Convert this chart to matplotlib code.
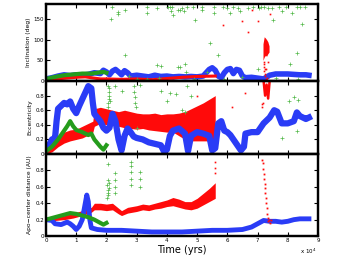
import numpy as np
import matplotlib
matplotlib.use('Agg')
import matplotlib.pyplot as plt
from matplotlib.patches import Rectangle

# time in units of 1e4 yrs
# ---------------- inclination (deg) ----------------
inc_blue_t = [0.0, 0.2, 0.4, 0.6, 0.8, 1.0, 1.2, 1.4, 1.6, 1.8, 1.9, 2.0, 2.1, 2.2, 2.3, 2.4, 2.5,
              2.6, 2.7, 2.8, 3.0, 3.2, 3.4, 3.6, 3.8, 4.0, 4.2, 4.4, 4.6, 4.8, 5.0, 5.2, 5.4, 5.5,
              5.6, 5.7, 5.8, 5.9, 6.0, 6.1, 6.2, 6.3, 6.4, 6.5, 6.6, 6.8, 7.0, 7.2, 7.4, 7.6, 7.8,
              8.0, 8.2, 8.4, 8.6, 8.7]
inc_blue = [5, 8, 12, 15, 13, 15, 14, 16, 20, 18, 26, 22, 15, 24, 28, 22, 15,
            25, 20, 12, 14, 12, 10, 14, 11, 12, 10, 11, 10, 11, 10, 12, 28, 32,
            26, 12, 8, 20, 28, 30, 18, 28, 26, 12, 8, 9, 7, 5, 14, 17, 17,
            17, 16, 15, 15, 14]
inc_red_t = [0.0, 0.5, 1.0, 1.3, 1.5, 1.8, 2.0, 2.5, 3.0, 3.5, 4.0, 4.5, 5.0, 5.6]
inc_red = [2, 6, 9, 10, 8, 5, 5, 4, 5, 3, 6, 9, 11, 12]
inc_green_t = [0.0, 0.3, 0.6, 0.9, 1.2, 1.5, 1.7, 1.9, 2.0]
inc_green = [5, 10, 14, 16, 18, 18, 20, 22, 20]
# red spike near 7.3e4 yrs
spike_t = [7.18, 7.22, 7.26, 7.3, 7.34, 7.38]
spike_lo = [50, 58, 62, 60, 66, 70]
spike_hi = [90, 107, 104, 100, 95, 85]
red_dots_t = [5.87, 6.48, 6.7, 6.81, 7.0, 7.42, 7.2, 7.22, 7.25, 7.21, 7.28, 7.24, 7.3, 7.33, 7.27,
              7.2, 7.23, 4.2, 3.5]
red_dots_i = [135, 146, 119, 171, 146, 163, 40, 25, 12, 33, 30, 18, 8, 45, 4,
              46, 28, 2, 1]
plus_t = [2.2, 2.15, 2.38, 2.38, 2.62, 2.62, 3.33, 3.33, 3.67, 3.67, 3.82, 4.05, 4.1, 4.17, 4.12,
          4.2, 4.37, 4.42, 4.37, 4.45, 4.5, 4.55, 4.65, 4.88, 4.93, 5.17, 5.17, 5.55, 5.55, 5.87,
          6.0, 6.09, 6.2, 6.35, 6.42, 6.7, 6.85, 7.05, 7.1, 7.2, 7.35, 7.47, 7.52, 7.7, 7.8,
          7.95, 8.15, 8.3, 8.4, 8.58, 8.47, 5.43, 5.68, 8.3, 4.6, 4.62, 5.32, 7.0, 8.08,
          2.75, 3.0, 3.35, 3.75, 4.9, 5.9, 6.5, 7.6, 8.35]
plus_i = [178, 151, 167, 162, 172, 63, 178, 164, 177, 39, 37, 178, 178, 178, 169,
          160, 173, 173, 35, 33, 176, 170, 178, 178, 147, 172, 178, 165, 178, 178,
          177, 164, 178, 176, 169, 176, 178, 177, 178, 178, 176, 176, 147, 178, 169,
          178, 164, 178, 178, 178, 138, 91, 63, 68, 41, 23, 23, 28, 41,
          11, 5, 4, 8, 6, 5, 9, 7, 6]

# ---------------- eccentricity ----------------
ecc_blue_t = [0.0, 0.1, 0.2, 0.3, 0.35, 0.4, 0.5, 0.6, 0.7, 0.8, 0.9, 1.0, 1.1, 1.2, 1.3, 1.4, 1.5,
              1.55, 1.6, 1.7, 1.8, 1.9, 2.0, 2.1, 2.2, 2.3, 2.4, 2.5, 2.6, 2.7, 2.8, 2.9, 3.0,
              3.2, 3.4, 3.6, 3.8, 3.9, 4.0, 4.1, 4.2, 4.4, 4.6, 4.7, 4.8, 5.0, 5.2, 5.4, 5.5,
              5.6, 5.7, 5.8, 5.9, 6.0, 6.1, 6.2, 6.3, 6.45, 6.55, 6.6, 6.8, 7.0, 7.1, 7.2,
              7.4, 7.55, 7.65, 7.8, 8.0, 8.2, 8.3, 8.4, 8.6, 8.7]
ecc_blue = [0.06, 0.12, 0.2, 0.22, 0.45, 0.62, 0.66, 0.7, 0.68, 0.72, 0.62, 0.56, 0.66, 0.75, 0.84, 0.93, 0.9,
            0.7, 0.55, 0.5, 0.45, 0.36, 0.32, 0.36, 0.55, 0.45, 0.2, 0.05, 0.25, 0.35, 0.3, 0.24, 0.22,
            0.2, 0.16, 0.14, 0.12, 0.04, 0.06, 0.25, 0.32, 0.35, 0.28, 0.04, 0.25, 0.3, 0.28, 0.25, 0.05,
            0.08, 0.42, 0.45, 0.32, 0.3, 0.26, 0.2, 0.14, 0.05, 0.1, 0.28, 0.3, 0.3, 0.36, 0.42,
            0.5, 0.6, 0.58, 0.42, 0.42, 0.45, 0.57, 0.52, 0.48, 0.5]
ecc_red_t = [0.0, 0.2, 0.4, 0.6, 0.8, 1.0, 1.2, 1.4, 1.55, 1.6, 1.8, 2.0, 2.2, 2.4, 2.6, 2.8, 3.0,
             3.2, 3.4, 3.6, 3.8, 4.0, 4.2, 4.4, 4.6, 4.8, 5.0, 5.2, 5.4, 5.6]
ecc_red_lo = [0.0, 0.03, 0.1, 0.15, 0.18, 0.2, 0.22, 0.26, 0.3, 0.38, 0.42, 0.4, 0.42, 0.38, 0.36, 0.35, 0.34,
              0.35, 0.33, 0.32, 0.31, 0.3, 0.3, 0.25, 0.2, 0.18, 0.18, 0.18, 0.18, 0.2]
ecc_red_hi = [0.08, 0.18, 0.25, 0.3, 0.33, 0.34, 0.38, 0.42, 0.45, 0.62, 0.64, 0.62, 0.6, 0.58, 0.6, 0.58, 0.56,
              0.55, 0.55, 0.56, 0.54, 0.55, 0.55, 0.56, 0.58, 0.62, 0.66, 0.7, 0.75, 0.8]
ecc_green_t = [0.0, 0.2, 0.4, 0.6, 0.7, 0.8, 0.9, 1.0, 1.2, 1.4, 1.5, 1.6, 1.7, 1.8, 1.9, 2.0]
ecc_green = [0.04, 0.1, 0.2, 0.32, 0.38, 0.45, 0.38, 0.33, 0.3, 0.26, 0.28, 0.2, 0.15, 0.1, 0.06, 0.12]
ecc_spike_t = [7.2, 7.25, 7.3, 7.35, 7.4]
ecc_spike = [1.0, 0.8, 0.95, 0.76, 1.0]
ecc_reddot_t = [7.15, 7.15, 7.17, 6.15, 6.6, 5.0]
ecc_reddot = [0.68, 0.64, 0.7, 0.65, 0.83, 0.8]
ecc_plus_t = [2.05, 2.05, 2.08, 2.08, 2.1, 2.1, 2.06, 2.12, 2.3, 2.5, 2.9, 2.92, 2.95, 2.95, 2.98,
              3.0, 3.1, 3.8, 4.0, 4.1, 4.3, 4.5, 4.6, 4.65, 4.8, 7.8, 8.05, 8.2, 8.3, 8.35]
ecc_plus = [0.65, 0.7, 0.75, 0.8, 0.85, 0.9, 0.93, 0.72, 0.93, 0.87, 0.93, 0.85, 0.78, 0.7, 0.65,
            0.35, 0.95, 0.86, 0.72, 0.84, 0.82, 0.6, 0.57, 0.93, 0.8, 0.22, 0.72, 0.78, 0.31, 0.74]

# ---------------- apo-center distance (AU) ----------------
apo_blue_t = [0.0, 0.2, 0.3, 0.5, 0.7, 0.8, 0.9, 1.0, 1.1, 1.2, 1.3, 1.35, 1.4, 1.45, 1.5, 1.7, 2.0,
              2.5, 3.0, 3.5, 4.0, 4.5, 5.0, 5.5, 6.0, 6.5, 6.8, 7.0, 7.2, 7.4, 7.6, 7.8, 8.0,
              8.2, 8.4, 8.7]
apo_blue = [0.2, 0.19, 0.15, 0.14, 0.17, 0.15, 0.12, 0.08, 0.12, 0.2, 0.4, 0.5, 0.42, 0.2, 0.1, 0.08, 0.07,
            0.07, 0.06, 0.05, 0.05, 0.05, 0.06, 0.07, 0.07, 0.08, 0.11, 0.15, 0.19, 0.18, 0.18, 0.17, 0.18,
            0.2, 0.21, 0.21]
apo_red_t = [0.0, 0.3, 0.6, 0.9, 1.2, 1.5, 1.6, 1.8, 2.0, 2.2, 2.4, 2.5, 2.7, 3.0, 3.2, 3.4, 3.6,
             3.8, 4.0, 4.2, 4.4, 4.6, 4.8, 5.0, 5.2, 5.4, 5.6]
apo_red_lo = [0.18, 0.19, 0.2, 0.22, 0.25, 0.29, 0.32, 0.32, 0.31, 0.32, 0.27, 0.25, 0.28, 0.3, 0.32, 0.31, 0.33,
              0.34, 0.36, 0.37, 0.35, 0.33, 0.32, 0.34, 0.38, 0.42, 0.46]
apo_red_hi = [0.22, 0.23, 0.25, 0.28, 0.31, 0.35, 0.4, 0.4, 0.39, 0.4, 0.34, 0.31, 0.35, 0.37, 0.39, 0.38, 0.4,
              0.42, 0.44, 0.47, 0.45, 0.42, 0.42, 0.46, 0.52, 0.58, 0.65]
apo_spike_t = [7.15, 7.17, 7.19, 7.2, 7.22, 7.23, 7.24, 7.26, 7.27, 7.28, 7.3, 7.32, 7.34, 7.36, 7.38, 7.4, 7.43]
apo_spike = [0.93, 0.89, 0.82, 0.76, 0.7, 0.64, 0.58, 0.52, 0.46, 0.4, 0.34, 0.27, 0.22, 0.18, 0.2, 0.16, 0.19]
apo_reddot_t = [5.6, 5.6, 5.58]
apo_reddot = [0.77, 0.83, 0.9]
apo_green_t = [0.0, 0.2, 0.4, 0.6, 0.8, 1.0, 1.2, 1.4, 1.6, 1.8, 1.9, 2.0]
apo_green = [0.2, 0.22, 0.24, 0.26, 0.28, 0.27, 0.25, 0.23, 0.2, 0.16, 0.14, 0.16]
apo_plus_t = [2.02, 2.04, 2.06, 2.05, 2.08, 2.03, 2.07, 2.05, 2.06, 2.3, 2.3, 2.3, 2.3,
              2.8, 2.8, 2.8, 2.8, 2.8, 3.1, 3.1, 3.1]
apo_plus = [0.47, 0.5, 0.53, 0.56, 0.59, 0.62, 0.65, 0.68, 0.88, 0.53, 0.6, 0.68, 0.77,
            0.62, 0.7, 0.78, 0.85, 0.9, 0.6, 0.7, 0.78]

blue = '#2a3cf6'
red = '#ff0a0a'
green = '#259c1c'
plusc = '#52b848'

fig = plt.figure(figsize=(3.51, 2.58), dpi=100)
boxes = [[0.131, 0.686, 0.775, 0.298],
         [0.131, 0.403, 0.775, 0.283],
         [0.131, 0.085, 0.775, 0.318]]
ax1 = fig.add_axes(boxes[0])
ax2 = fig.add_axes(boxes[1])
ax3 = fig.add_axes(boxes[2])

# top: inclination
ax1.plot(inc_blue_t, inc_blue, color=blue, lw=4, solid_joinstyle='round')
ax1.plot(inc_red_t, inc_red, color=red, lw=2.2)
ax1.fill_between(spike_t, spike_lo, spike_hi, color=red, lw=0)
ax1.plot(red_dots_t, red_dots_i, 's', color=red, ms=1.2, mew=0)
ax1.plot(inc_green_t, inc_green, color=green, lw=3)
ax1.plot(plus_t, plus_i, '+', ms=3, mew=0.5, color=plusc)
ax1.set_ylim(0, 186)
ax1.set_yticks([0, 50, 100, 150])
ax1.set_ylabel('Inclination (deg)')

# middle: eccentricity
ax2.plot(ecc_blue_t, ecc_blue, color=blue, lw=4.5, solid_joinstyle='round')
ax2.plot(ecc_green_t, ecc_green, color=green, lw=3)
ax2.fill_between(ecc_red_t, ecc_red_lo, ecc_red_hi, color=red, lw=0)
ax2.plot(ecc_spike_t, ecc_spike, color=red, lw=1.8)
ax2.plot(ecc_reddot_t, ecc_reddot, 's', color=red, ms=1.2, mew=0)
ax2.plot(ecc_plus_t, ecc_plus, '+', ms=3, mew=0.5, color=plusc)
ax2.set_ylim(0, 1)
ax2.set_yticks([0, 0.2, 0.4, 0.6, 0.8])
ax2.set_yticklabels(['0', '0.2', '0.4', '0.6', '0.8'])
ax2.set_ylabel('Eccentricity')

# bottom: apo-center distance
ax3.plot(apo_blue_t, apo_blue, color=blue, lw=3.5, solid_joinstyle='round')
ax3.fill_between(apo_red_t, apo_red_lo, apo_red_hi, color=red, lw=0)
ax3.plot(apo_spike_t, apo_spike, 's', color=red, ms=1.3, mew=0)
ax3.plot(apo_reddot_t, apo_reddot, 's', color=red, ms=1.2, mew=0)
ax3.plot(apo_green_t, apo_green, color=green, lw=3)
ax3.plot(apo_plus_t, apo_plus, '+', ms=3, mew=0.5, color=plusc)
ax3.set_ylim(0, 1)
ax3.set_yticks([0, 0.2, 0.4, 0.6, 0.8])
ax3.set_yticklabels(['0', '0.2', '0.4', '0.6', '0.8'])
ax3.set_ylabel('Apo\u2212center distance (AU)')

for ax in (ax1, ax2, ax3):
    ax.set_xlim(0, 9)
    ax.set_xticks(range(10))
    ax.tick_params(direction='in', top=True, right=True, length=3, width=0.8,
                   labelsize=4, pad=1.5)
    ax.yaxis.label.set_size(4.3)
    ax.yaxis.labelpad = 2
    for s in ax.spines.values():
        s.set_linewidth(1.6)
ax1.tick_params(labelbottom=False)
ax2.tick_params(labelbottom=False)
ax3.set_xticklabels([str(i) for i in range(10)])

# panel frames drawn at figure level as well
for b in boxes:
    fig.patches.append(Rectangle((b[0], b[1]), b[2], b[3], transform=fig.transFigure,
                                 fill=False, lw=1.6, ec='black', zorder=10, figure=fig))

fig.text(182 / 351, 1 - 250 / 258, 'Time (yrs)', ha='center', va='center', fontsize=7)
fig.text(316 / 351, 1 - 251 / 258, 'x 10$^4$', ha='right', va='center', fontsize=4)

fig.savefig('out.png', dpi=100)
